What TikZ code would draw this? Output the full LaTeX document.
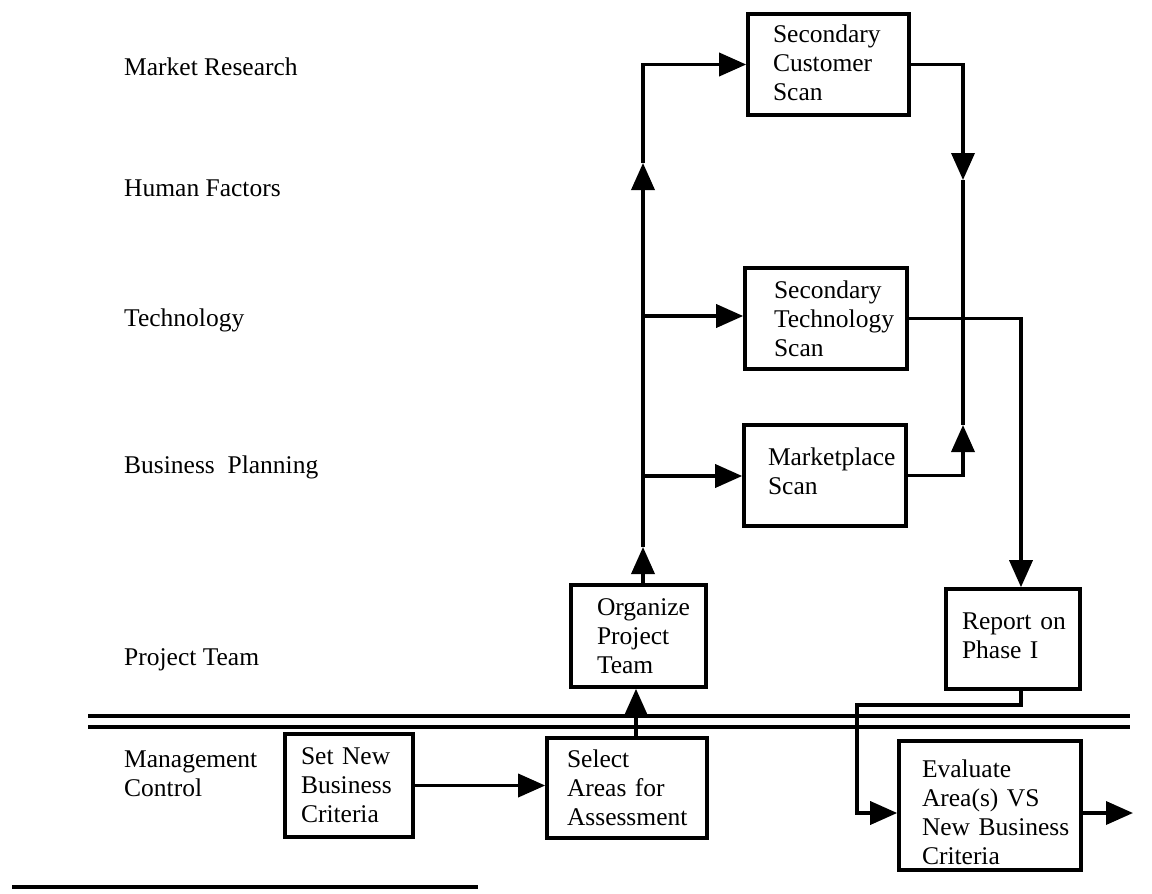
\documentclass[tikz,border=0pt]{standalone}
\usepackage{fontspec}
\setmainfont{Liberation Serif}
\usetikzlibrary{arrows.meta}
\hfuzz=60pt
\hbadness=10000
\begin{document}
\begin{tikzpicture}[x=1pt,y=-1pt,
  every node/.style={font=\fontsize{25.5}{29}\selectfont},
  lane/.style={anchor=west, inner sep=0pt, align=left},
  task/.style={draw, line width=3.6pt, rectangle, align=left,
    text width=#1, minimum width=#1, inner xsep=0pt, inner ysep=0pt},
  flow/.style={line width=3.6pt, -{Triangle[length=27pt,width=23pt]}},
  wire/.style={line width=3.6pt},
  rule/.style={line width=3.4pt}]
\useasboundingbox (0,0) rectangle (1152,894);

% lane labels
\node[lane] (lmr) at (124,67)  {Market Research};
\node[lane] (lhf) at (124,188) {Human Factors};
\node[lane] (lte) at (124,320) {Technology};
\node[lane] (lbp) at (124,467) {Business\ \ Planning};
\node[lane] (lpt) at (124,660) {Project Team};
\node[lane] (lmc) at (124,774) {Management\\Control};

% lane separator and foot rule
\draw[rule] (88,716) -- (1130,716);
\draw[rule] (88,727) -- (1130,727);
\draw[rule] (12,887) -- (478,887);

% tasks (text inset from the left edge by \leftskip)
\node[task=161pt, minimum height=101pt] (scs) at (828.5,64.5)
  {\leftskip=25pt Secondary\\Customer\\Scan\par\vspace{4pt}\hrule height0pt width0pt};
\node[task=162pt, minimum height=101pt] (sts) at (826,318.5)
  {\leftskip=29pt Secondary\\Technology\\Scan\par};
\node[task=162pt, minimum height=101pt] (mps) at (825,475.5)
  {\leftskip=24pt Marketplace\\Scan\par\vspace{8pt}\hrule height0pt width0pt};
\node[task=135pt, minimum height=102pt] (opt) at (638.5,636)
  {\leftskip=26pt Organize\\Project\\Team\par};
\node[task=134pt, minimum height=100pt] (rep) at (1013,639)
  {\leftskip=16pt Report\hspace{9pt}on\\Phase I\par\vspace{7pt}\hrule height0pt width0pt};
\node[task=128pt, minimum height=103pt] (snb) at (349,785.5)
  {\leftskip=16pt Set New\\Business\\Criteria\par};
\node[task=160pt, minimum height=100pt] (sel) at (627,788)
  {\leftskip=20pt Select\\Areas for\\Assessment\par};
\node[task=182pt, minimum height=129pt] (eva) at (990,805.5)
  {\leftskip=23pt \hrule height0pt width0pt\vspace{13pt}Evaluate\\Area(s) VS\\New Business\\Criteria\par};

% routing points
\coordinate (lb1) at (643,547);
\coordinate (lb2) at (643,163);
\coordinate (lb3) at (643,316);
\coordinate (lb4) at (643,476);
\coordinate (rb1) at (963,180);
\coordinate (rb2) at (963,425);
\coordinate (rx)  at (1021,0);
\coordinate (sx)  at (636,0);
\coordinate (dropy) at (0,705);
\coordinate (dropx) at (857,813);
\coordinate (ey)  at (0,813);
\coordinate (out) at (1133,813);

% management control
\draw[flow] (snb.east) -- (snb.east -| sel.west);
\draw[flow] (sel.north -| sx) -- (opt.south -| sx);

% project team fan-out
\draw[flow] (opt.north -| lb1) -- (lb1);
\draw[flow] (lb1) -- (lb2);
\draw[flow] (lb2) |- (scs.west);
\draw[flow] (lb3) -- (lb3 -| sts.west);
\draw[flow] (lb4) -- (lb4 -| mps.west);

% scans merge
\draw[flow] (scs.east) -| (rb1);
\draw[wire] (rb1) -- (rb2);
\draw[flow] (mps.east) -| (rb2);
\draw[flow] (sts.east) -| (rep.north -| rx);

% report to evaluation
\draw[flow] (rep.south -| rx) -- (rx |- dropy) -| (dropx) -- (eva.west |- ey);
\draw[flow] (eva.east |- ey) -- (out);
\end{tikzpicture}
\end{document}
